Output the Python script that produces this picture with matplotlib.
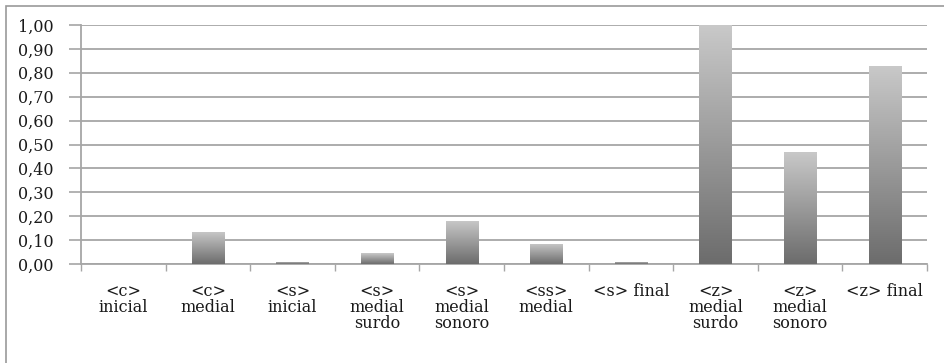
import numpy as np
import matplotlib
matplotlib.use("Agg")
import matplotlib.pyplot as plt
from matplotlib.patches import Rectangle
from matplotlib.ticker import FuncFormatter, FixedLocator

categories = ["<c>\ninicial", "<c>\nmedial", "<s>\ninicial", "<s>\nmedial\nsurdo",
              "<s>\nmedial\nsonoro", "<ss>\nmedial", "<s> final", "<z>\nmedial\nsurdo",
              "<z>\nmedial\nsonoro", "<z> final"]
values = [0.0, 0.135, 0.01, 0.045, 0.18, 0.085, 0.01, 1.00, 0.47, 0.83]
y_ticks = [0.0, 0.1, 0.2, 0.3, 0.4, 0.5, 0.6, 0.7, 0.8, 0.9, 1.0]

plt.rcParams["font.family"] = ["DejaVu Serif", "Liberation Serif"]

fig = plt.figure(figsize=(9.45, 3.63), dpi=100)
ax = fig.add_axes([81 / 945, 1 - 264 / 363, (927 - 81) / 945, (264 - 25) / 363])

x = np.arange(len(categories))
bars = ax.bar(x, values, width=0.38, color="none", edgecolor="none", zorder=3)

# vertical grey gradient inside each bar (light top, dark bottom)
grad = np.linspace(0, 1, 256).reshape(-1, 1)
cmap = matplotlib.colors.LinearSegmentedColormap.from_list("g", ["#6c6c6c", "#c9c9c9"])
for b in bars:
    h = b.get_height()
    if h <= 0:
        continue
    x0 = b.get_x()
    im = ax.imshow(grad, extent=(x0, x0 + b.get_width(), 0, h), origin="lower",
                   cmap=cmap, aspect="auto", zorder=3, interpolation="bilinear")
    im.set_clip_path(b)

ax.set_xlim(-0.5, len(categories) - 0.5)
ax.set_ylim(0, 1.0)

ax.yaxis.set_major_locator(FixedLocator(y_ticks))
ax.yaxis.set_major_formatter(FuncFormatter(lambda v, p: f"{v:.2f}".replace(".", ",")))
ax.grid(axis="y", color="#a6a6a6", linewidth=1.3, zorder=1)
ax.set_axisbelow(True)

ax.set_xticks(x)
ax.set_xticklabels(categories, linespacing=0.92)
ax.xaxis.set_minor_locator(FixedLocator(np.arange(-0.5, len(categories), 1.0)))
ax.tick_params(axis="x", which="major", length=0, pad=14, labelsize=11.5, labelcolor="#1a1a1a")
ax.tick_params(axis="x", which="minor", length=5, color="#a6a6a6", width=1)
ax.tick_params(axis="y", length=9, color="#a6a6a6", width=1.2, pad=11, labelsize=11.5,
               labelcolor="#1a1a1a")

for s in ["top", "right"]:
    ax.spines[s].set_visible(False)
for s in ["left", "bottom"]:
    ax.spines[s].set_color("#a6a6a6")
    ax.spines[s].set_linewidth(1.3)

# outer frame around the chart area
fig.patches.append(Rectangle((6 / 945, -0.1), 1.2, 1.1 - 6 / 363, transform=fig.transFigure,
                             fill=False, edgecolor="#9a9a9a", linewidth=1.2))

fig.savefig("out.png", dpi=100)
